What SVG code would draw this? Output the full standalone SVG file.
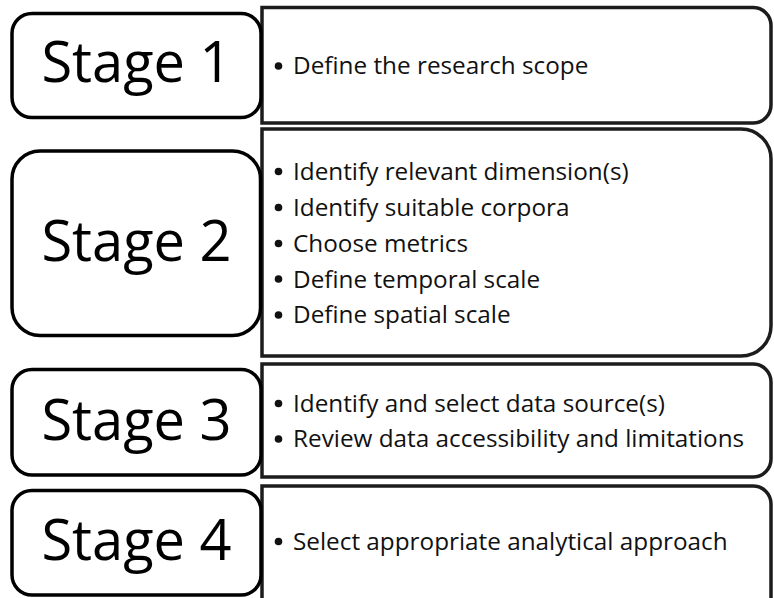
<svg xmlns="http://www.w3.org/2000/svg" width="774" height="598" viewBox="0 0 774 598">
  <style>
    .stage { fill: #ffffff; stroke: #000000; stroke-width: 3.5; }
    .panel { fill: #ffffff; stroke: #1c1c1c; stroke-width: 3.5; }
    .title { font-family: "Open Sans", "Noto Sans", sans-serif; font-size: 56px; fill: #000000; text-anchor: middle; }
    .item { font-family: "Open Sans", "Noto Sans", sans-serif; font-size: 24.3px; fill: #111111; }
    .dot { fill: #111111; }
  </style>
  <rect width="774" height="598" fill="#ffffff"/>

  <!-- Stage 1 -->
  <g id="stage1">
    <path class="panel" d="M262,7.5 H753 A18,18 0 0 1 771,25.5 V105 A18,18 0 0 1 753,123 H262 Z"/>
    <rect class="stage" x="12" y="13.5" width="249" height="104" rx="20" ry="20"/>
    <text class="title" x="136.5" y="82">Stage 1</text>
    <circle class="dot" cx="278.5" cy="66" r="3.8"/>
    <text class="item" x="293" y="74">Define the research scope</text>
  </g>

  <!-- Stage 2 -->
  <g id="stage2">
    <path class="panel" d="M262,129 H741 A30,30 0 0 1 771,159 V326 A30,30 0 0 1 741,356 H262 Z"/>
    <rect class="stage" x="12" y="151" width="248.5" height="184.5" rx="28" ry="28"/>
    <text class="title" x="136.5" y="261">Stage 2</text>
    <circle class="dot" cx="278.5" cy="171.5" r="3.8"/>
    <text class="item" x="293" y="180">Identify relevant dimension(s)</text>
    <circle class="dot" cx="278.5" cy="207.5" r="3.8"/>
    <text class="item" x="293" y="216">Identify suitable corpora</text>
    <circle class="dot" cx="278.5" cy="243.5" r="3.8"/>
    <text class="item" x="293" y="252">Choose metrics</text>
    <circle class="dot" cx="278.5" cy="279" r="3.8"/>
    <text class="item" x="293" y="287.5">Define temporal scale</text>
    <circle class="dot" cx="278.5" cy="315" r="3.8"/>
    <text class="item" x="293" y="323">Define spatial scale</text>
  </g>

  <!-- Stage 3 -->
  <g id="stage3">
    <path class="panel" d="M262,364 H753 A18,18 0 0 1 771,382 V459 A18,18 0 0 1 753,477 H262 Z"/>
    <rect class="stage" x="12" y="369.5" width="249" height="105.5" rx="20" ry="20"/>
    <text class="title" x="136.5" y="439.5">Stage 3</text>
    <circle class="dot" cx="278.5" cy="403.5" r="3.8"/>
    <text class="item" x="293" y="412">Identify and select data source(s)</text>
    <circle class="dot" cx="278.5" cy="439" r="3.8"/>
    <text class="item" x="293" y="447">Review data accessibility and limitations</text>
  </g>

  <!-- Stage 4 -->
  <g id="stage4">
    <path class="panel" d="M262,486 H753 A18,18 0 0 1 771,504 V604 H262 Z"/>
    <rect class="stage" x="12" y="490.5" width="249" height="104.5" rx="20" ry="20"/>
    <text class="title" x="136.5" y="560">Stage 4</text>
    <circle class="dot" cx="278.5" cy="541.5" r="3.8"/>
    <text class="item" x="293" y="550">Select appropriate analytical approach</text>
  </g>

  <!-- stages are stacked without connectors -->
  <g id="connectors"/>
</svg>
